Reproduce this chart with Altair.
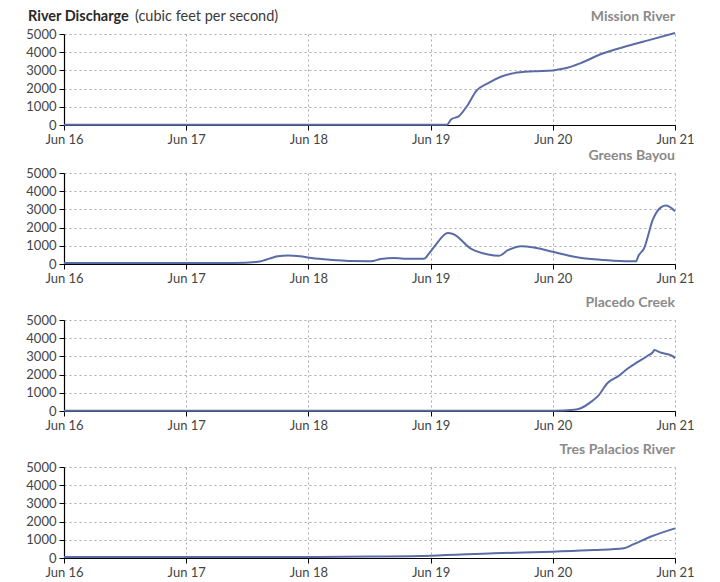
import altair as alt
import pandas as pd

# ---- data (hours since Jun 16 00:00, discharge in cfs) ----
mission_hours = [0, 30, 60, 75.2, 76.0, 77.6, 79.3, 80.9, 83.3, 85.8, 88.4, 92.3, 96.0, 98.2, 101.5, 105.5, 110.8, 114.7, 120]
mission_cfs = [20, 20, 20, 20, 300, 500, 1100, 1850, 2300, 2650, 2850, 2950, 3000, 3100, 3400, 3900, 4350, 4650, 5050]

greens_hours = [0, 20, 33.4, 38.1, 42.0, 44.0, 46.3, 48.6, 53.0, 56.3, 60.2, 62.2, 64.8, 66.7, 70.7, 71.7, 72.7, 75.4, 76.4, 79.9, 83.3, 85.4, 87.2, 89.8, 92.3, 96.0, 100.2, 104.1, 108.0, 112.3, 112.9, 113.9, 115.7, 117.3, 118.2, 120]
greens_cfs = [60, 60, 60, 120, 430, 470, 430, 330, 220, 160, 150, 270, 330, 290, 290, 580, 940, 1700, 1650, 850, 525, 450, 760, 980, 910, 670, 400, 255, 180, 145, 490, 850, 2480, 3130, 3210, 2900]

placedo_hours = [0, 40, 80, 96.2, 100.2, 101.5, 103.5, 104.9, 106.8, 108.8, 110.8, 112.7, 114.7, 115.7, 115.9, 117.3, 118.6, 119.6, 120]
placedo_cfs = [20, 20, 20, 20, 70, 150, 500, 830, 1550, 1900, 2350, 2700, 3050, 3250, 3350, 3200, 3120, 3000, 2900]

tres_hours = [0, 24, 48, 60, 72.1, 84.5, 96.0, 104.1, 110.0, 111.9, 115.3, 120]
tres_cfs = [50, 50, 55, 80, 125, 260, 350, 435, 540, 760, 1180, 1630]

rivers = ["Mission River", "Greens Bayou", "Placedo Creek", "Tres Palacios River"]
series = [
    (mission_hours, mission_cfs),
    (greens_hours, greens_cfs),
    (placedo_hours, placedo_cfs),
    (tres_hours, tres_cfs),
]
y_ticks = [0, 1000, 2000, 3000, 4000, 5000]
day_ticks = [16, 17, 18, 19, 20, 21]
heading = ["River Discharge"]
unit_text = ["(cubic feet per second)"]

START = pd.Timestamp("2024-06-16 00:00")
FONT = "Lato"
LINE_COLOR = "#5a6ca6"
W, H = 611, 91
TY = -17


def frame(hours, vals):
    return pd.DataFrame({
        "time": START + pd.to_timedelta(hours, unit="h"),
        "cfs": vals,
    })


x_scale = alt.Scale(
    domain=[alt.DateTime(year=2024, month=6, date=16),
            alt.DateTime(year=2024, month=6, date=21)],
    nice=False,
)
x_axis = alt.Axis(
    title=None,
    format="%b %d",
    values=[alt.DateTime(year=2024, month=6, date=d) for d in day_ticks],
    labelFlush=False,
    labelOverlap=False,
    grid=True,
    labelPadding=3,
)
y_axis = alt.Axis(title=None, values=y_ticks, grid=True, labelOverlap=False,
                  format="d", labelPadding=3)


def panel(name, hours, vals, first=False):
    line = alt.Chart(frame(hours, vals)).mark_line(
        color=LINE_COLOR, strokeWidth=2, interpolate="monotone", clip=False
    ).encode(
        x=alt.X("time:T", scale=x_scale, axis=x_axis),
        y=alt.Y("cfs:Q", scale=alt.Scale(domain=[0, 5000], nice=False), axis=y_axis),
    )
    title = alt.Chart(pd.DataFrame({"t": [name]})).mark_text(
        align="right", baseline="middle", font=FONT, fontSize=14,
        fontWeight="bold", color="#8a8a8a"
    ).encode(x=alt.value(W), y=alt.value(TY), text="t:N")
    layers = [line, title]
    if first:
        layers.append(
            alt.Chart(pd.DataFrame({"t": heading})).mark_text(
                align="left", baseline="middle", font=FONT, fontSize=14.5,
                fontWeight="bold", color="#2a2a2a"
            ).encode(x=alt.value(-36), y=alt.value(TY), text="t:N")
        )
        layers.append(
            alt.Chart(pd.DataFrame({"t": unit_text})).mark_text(
                align="left", baseline="middle", font=FONT, fontSize=14.5,
                color="#3a3a3a"
            ).encode(x=alt.value(71), y=alt.value(TY), text="t:N")
        )
    return alt.layer(*layers).properties(width=W, height=H)


charts = [panel(n, h, v, first=(i == 0)) for i, (n, (h, v)) in enumerate(zip(rivers, series))]

lower = alt.vconcat(*charts[1:], spacing=11)
chart = alt.vconcat(charts[0], lower, spacing=3).properties(
    padding={"left": 17, "top": 1, "right": 5, "bottom": 0}
).configure_view(stroke=None).configure_axis(
    labelFont=FONT,
    labelFontSize=13,
    labelColor="#444",
    domainColor="#000",
    domainWidth=1.2,
    tickColor="#000",
    tickSize=5,
    gridColor="#aaaaaa",
    gridDash=[2, 3],
    gridWidth=1,
)

chart.save("out.html", embed_options={"renderer": "svg", "actions": False})
